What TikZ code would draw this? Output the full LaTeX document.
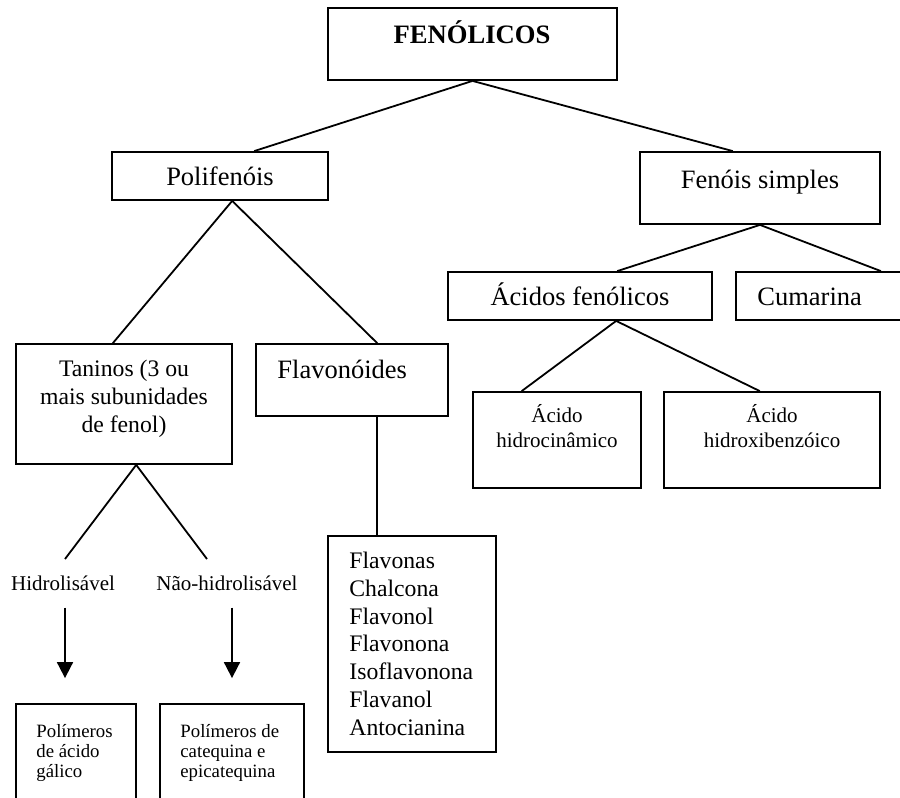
\documentclass[tikz,border=0pt]{standalone}
\usepackage{fontspec}
\setmainfont{Liberation Serif}
\usetikzlibrary{arrows.meta,fit,calc}
\begin{document}
\begin{tikzpicture}[x=0.5pt,y=-0.5pt,
 box/.style={draw,line width=0.9pt,inner sep=0pt},
 ln/.style={line width=0.9pt},
 arr/.style={line width=0.9pt,-{Triangle[length=8pt,width=8pt]}},
 fA/.style={font=\fontsize{13.25}{15}\selectfont, inner sep=0pt},
 fB/.style={font=\fontsize{11.85}{13.85}\selectfont, inner sep=0pt},
 fC/.style={font=\fontsize{10.5}{12.5}\selectfont, inner sep=0pt},
 fD/.style={font=\fontsize{9.4}{10}\selectfont, inner sep=0pt},
 fBold/.style={font=\bfseries\fontsize{13.3}{15}\selectfont, inner sep=0pt},
]
\useasboundingbox (0,0) rectangle (900,798);
\clip (0,0) rectangle (900,798);

% boxes and texts (multi-line texts are placed by the baseline of their last line)
\node[box,fit={(328,8)(617,80)}] (fen) {};
\node[fBold,anchor=base] (fent) at (472,43) {FENÓLICOS};

\node[box,fit={(112,152)(328,200)}] (pol) {};
\node[fA,anchor=base] (polt) at (220,185) {Polifenóis};

\node[box,fit={(640,152)(880,224)}] (fs) {};
\node[fA,anchor=base] (fst) at (760,188) {Fenóis simples};

\node[box,fit={(448,272)(712,320)}] (af) {};
\node[fA,anchor=base] (aft) at (580,305) {Ácidos fenólicos};

\node[box,fit={(736,272)(920,320)}] (cum) {};
\node[fA,anchor=base west] (cumt) at (757,305) {Cumarina};

\node[box,fit={(473,392)(641,488)}] (ah1) {};
\node[fC,anchor=base,align=center] (ah1t) at (557,447) {Ácido\\hidrocinâmico};

\node[box,fit={(664,392)(880,488)}] (ah2) {};
\node[fC,anchor=base,align=center] (ah2t) at (772,447) {Ácido\\hidroxibenzóico};

\node[box,fit={(16,344)(232,464)}] (tan) {};
\node[fB,anchor=base,align=center] (tant) at (124,432) {Taninos (3 ou\\mais subunidades\\de fenol)};

\node[box,fit={(256,344)(448,416)}] (flv) {};
\node[fA,anchor=base west] (flvt) at (277,378) {Flavonóides};

\node[box,fit={(328,536)(496,752)}] (fl) {};
\node[fB,anchor=base west,align=left] (flt) at (349,735) {Flavonas\\Chalcona\\Flavonol\\Flavonona\\Isoflavonona\\Flavanol\\Antocianina};

\node[fC,anchor=base] (hid) at (63,590) {Hidrolisável};
\node[fC,anchor=base] (nhid) at (227,590) {Não-hidrolisável};

\node[box,fit={(16,704)(136,830)}] (p1) {};
\node[fD,anchor=base west,align=left] (p1t) at (36,777) {Polímeros\\de ácido\\gálico};

\node[box,fit={(160,704)(304,830)}] (p2) {};
\node[fD,anchor=base west,align=left] (p2t) at (180,777) {Polímeros de\\catequina e\\epicatequina};

% connectors
\draw[ln] (fen.south) -- ($(pol.north west)!.657!(pol.north east)$);
\draw[ln] (fen.south) -- ($(fs.north west)!.3875!(fs.north east)$);

\coordinate (pv) at ($(pol.south west)!.556!(pol.south east)$);
\draw[ln] (pv) -- ($(tan.north west)!.449!(tan.north east)$);
\draw[ln] (pv) -- ($(flv.north west)!.63!(flv.north east)$);

\coordinate (fv) at ($(flv.south west)!.63!(flv.south east)$);
\draw[ln] (fv) -- (fv |- fl.north);

\coordinate (tv) at ($(tan.south west)!.556!(tan.south east)$);
\coordinate (t1) at (65,559);
\coordinate (t2) at (207,559);
\draw[ln] (tv) -- (t1);
\draw[ln] (tv) -- (t2);

\draw[ln] (fs.south) -- ($(af.north west)!.64!(af.north east)$);
\draw[ln] (fs.south) -- (cum.north -| fs.east);

\coordinate (av) at ($(af.south west)!.636!(af.south east)$);
\draw[ln] (av) -- ($(ah1.north west)!.292!(ah1.north east)$);
\draw[ln] (av) -- ($(ah2.north west)!.444!(ah2.north east)$);

\coordinate (a1) at ([xshift=1pt,yshift=-8.5pt]hid.south);
\coordinate (a2) at ([xshift=2.5pt,yshift=-8.5pt]nhid.south);
\draw[arr,shorten >=12.5pt] (a1) -- (a1 |- p1.north);
\draw[arr,shorten >=12.5pt] (a2) -- (a2 |- p2.north);
\end{tikzpicture}
\end{document}
